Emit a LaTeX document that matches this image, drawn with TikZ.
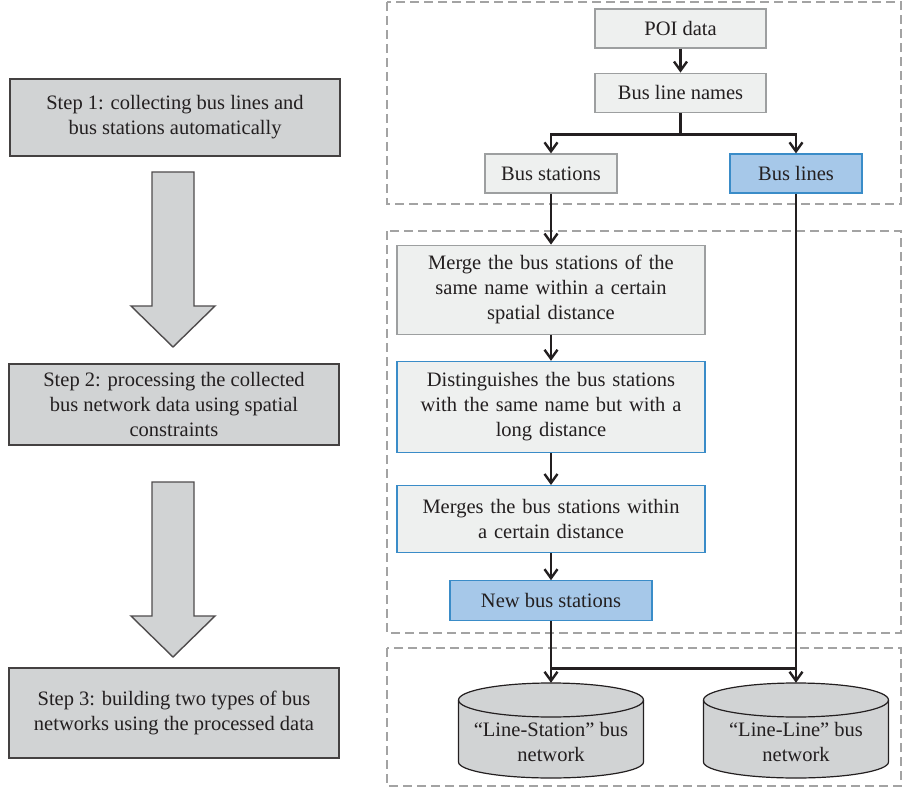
\documentclass[tikz,border=0pt]{standalone}
\usepackage{fontspec}
\setmainfont{Liberation Serif}
\usetikzlibrary{arrows.meta,positioning,calc}
\definecolor{ink}{HTML}{231F20}
\definecolor{paper}{HTML}{EEF0EF}
\definecolor{rim}{HTML}{9D9FA0}
\definecolor{stepgray}{HTML}{D1D3D4}
\definecolor{sky}{HTML}{A6C8E9}
\definecolor{skyline}{HTML}{3A8CC8}
\definecolor{grpgray}{HTML}{A3A3A3}
\tikzset{
  box/.style={rectangle, draw=rim, fill=paper, line width=1.2pt, align=center,
              inner sep=4pt, font=\fontsize{20.5}{25}\selectfont, text=ink},
  bluebox/.style={box, draw=skyline, fill=sky},
  blueedge/.style={box, draw=skyline},
  stepbox/.style={box, draw=ink!85, fill=stepgray, line width=1.4pt, minimum width=330pt},
  store/.style={rectangle, align=center, font=\fontsize{20.5}{25}\selectfont, text=ink,
                minimum width=185pt, minimum height=95pt, inner sep=0pt, text height=63pt},
  storeline/.style={draw=ink, fill=stepgray, line width=1.2pt},
  flow/.style={-{Straight Barb[length=9pt,width=13pt,line width=2.4pt]}, draw=ink, line width=2.6pt},
  link/.style={draw=ink, line width=2.4pt},
  grp/.style={draw=grpgray, dash pattern=on 9pt off 5pt, line width=1.1pt},
  bigarrow/.style={draw=ink!80, fill=stepgray, line width=1.4pt, line join=miter}
}

\begin{document}
\begin{tikzpicture}[x=1pt, y=-1pt]
 \useasboundingbox (0,0) rectangle (903,789);

 % dashed groups
 \draw[grp] (387,2) rectangle (901,204);
 \draw[grp] (387,231) rectangle (901,633);
 \draw[grp] (387,648) rectangle (901,786);

 % left column: the three steps
 \node[stepbox, minimum height=77pt] (s1) at (175,117.5) {Step 1: collecting bus lines and\\bus stations automatically};
 \node[stepbox, minimum height=81pt] (s2) at (174,404.5) {Step 2: processing the collected\\bus network data using spatial\\constraints};
 \node[stepbox, minimum height=90pt] (s3) at (174,713) {Step 3: building two types of bus\\networks using the processed data};
 \foreach \t in {172,482}
  \draw[bigarrow] (152,\t) -- (194,\t) -- (194,\t+134) -- (215,\t+134) -- (173,\t+175)
                  -- (131,\t+134) -- (152,\t+134) -- cycle;

 % right column
 \node[box, minimum width=171pt, minimum height=39pt] (poi) at (680.5,28.5) {POI data};
 \node[box, minimum width=171pt, minimum height=39pt, below=24pt of poi] (names) {Bus line names};
 \node[box, minimum width=132pt, minimum height=39pt] (st) at (551,173.5) {Bus stations};
 \node[bluebox, minimum width=132pt, minimum height=39pt] (bl) at (796,173.5) {Bus lines};
 \node[box, text width=300pt, minimum height=89pt, below=51pt of st] (merge) {Merge the bus stations of the\\same name within a certain\\spatial distance};
 \node[blueedge, text width=300pt, minimum height=91pt, below=26pt of merge] (dist) {Distinguishes the bus stations\\with the same name but with a\\long distance};
 \node[blueedge, text width=300pt, minimum height=67pt, below=32pt of dist] (merges) {Merges the bus stations within\\a certain distance};
 \node[bluebox, minimum width=202pt, minimum height=40pt, below=27pt of merges] (newst) {New bus stations};

 % the two networks
 \foreach \c/\x in {ls/551,ll/796} {
  \draw[storeline] ($(\x,683)+(-92.5,17)$) -- ($(\x,778)+(-92.5,-16)$)
     arc[start angle=180, end angle=360, x radius=92.5pt, y radius=16pt]
     -- ($(\x,683)+(92.5,17)$)
     arc[start angle=0, end angle=180, x radius=92.5pt, y radius=17pt] -- cycle;
  \draw[storeline, fill=none] ($(\x,683)+(-92.5,17)$)
     arc[start angle=180, end angle=360, x radius=92.5pt, y radius=17pt];
 }
 \node[store] (ls) at (551,730.5) {“Line-Station” bus\\network};
 \node[store] (ll) at (796,730.5) {“Line-Line” bus\\network};

 \coordinate (br) at ($(names.south)+(0,22)$);
 \coordinate (jn) at ($(newst.south)+(0,47)$);

 \draw[flow] (poi) -- (names);
 \draw[link] (names.south) -- (br);
 \draw[flow] (br) -| (st.north);
 \draw[flow] (br) -| (bl.north);
 \draw[flow] (st) -- (merge);
 \draw[flow] (merge) -- (dist);
 \draw[flow] (dist) -- (merges);
 \draw[flow] (merges) -- (newst);
 \draw[flow] (newst.south) -- (ls.north);
 \draw[flow] (bl.south) -- (ll.north);
 \draw[link] (jn) -- (jn -| bl.south);
\end{tikzpicture}
\end{document}
